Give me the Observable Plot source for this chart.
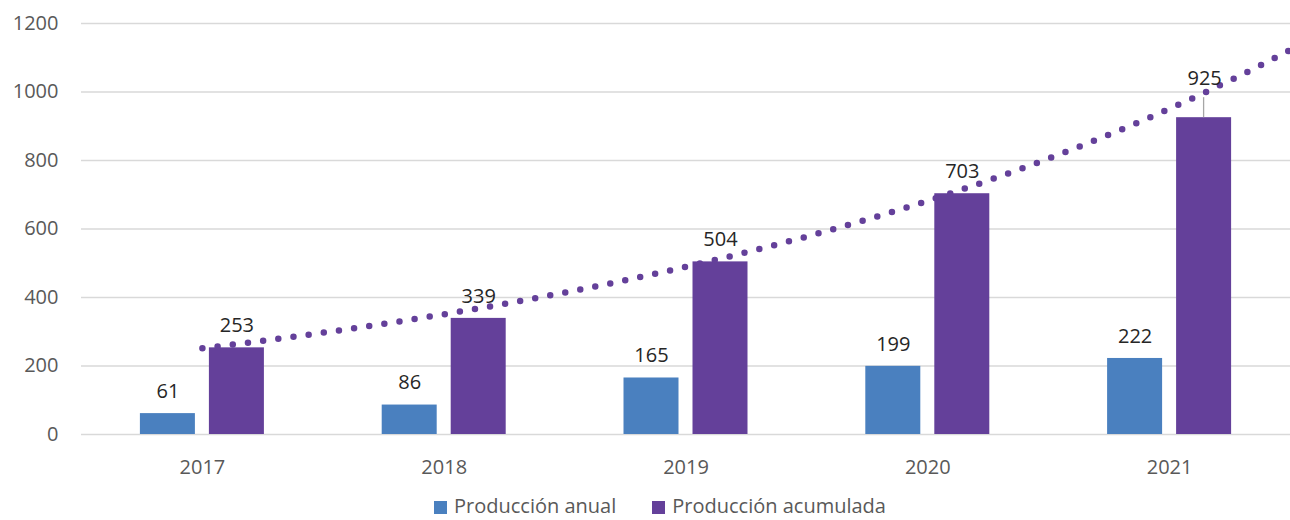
<!DOCTYPE html>
<html>
<head>
<meta charset="utf-8">
<script src="https://cdn.jsdelivr.net/npm/d3@7"></script>
<script src="https://cdn.jsdelivr.net/npm/@observablehq/plot@0.6"></script>
<style>
  body { margin: 0; background: #fff; font-family: "Open Sans", sans-serif; overflow: hidden; }
  #legend { display: flex; justify-content: center; gap: 36px; margin-top: 4px; padding-left: 30px;
            font-size: 20px; color: #595959; line-height: 24px; }
  #legend span.sw { display: inline-block; width: 13px; height: 13px; margin-right: 7px; vertical-align: -1px; }
</style>
</head>
<body>
<div id="chart"></div>
<div id="legend"></div>
<script>
const years = [2017, 2018, 2019, 2020, 2021];
const anual = [61, 86, 165, 199, 222];
const acumulada = [253, 339, 504, 703, 925];
const series = ["Producción anual", "Producción acumulada"];
const colors = ["#4a80bf", "#64409a"];
const yTicks = [0, 200, 400, 600, 800, 1000, 1200];

const dataAnual = years.map((y, i) => ({year: y, value: anual[i]}));
const dataAcum = years.map((y, i) => ({year: y, value: acumulada[i]}));

// Exponential trendline (least squares on ln y), as Excel draws it, forecast +0.5 period
const tx = years.map(y => y - years[0]);
const ly = acumulada.map(v => Math.log(v));
const mx = d3.mean(tx), my = d3.mean(ly);
const b = d3.sum(tx, (t, i) => (t - mx) * (ly[i] - my)) / d3.sum(tx, t => (t - mx) ** 2);
const a = my - b * mx;
const trend = d3.range(0, 4.5 + 1e-9, 0.05).map(t => ({year: years[0] + t, value: Math.exp(a + b * t)}));

const chart = Plot.plot({
  width: 1290,
  height: 490,
  marginLeft: 81,
  marginRight: 0,
  marginTop: 23,
  marginBottom: 56,
  style: {fontFamily: "Open Sans, sans-serif", fontSize: "20px", color: "#595959", background: "#fff"},
  x: {domain: [2016.5, 2021.5], ticks: years, tickFormat: d => String(d), tickSize: 0, tickPadding: 25, label: null},
  y: {domain: [0, 1200], ticks: yTicks, tickFormat: d => String(d), tickSize: 0, tickPadding: 23, label: null},
  marks: [
    Plot.ruleY(yTicks, {stroke: "#d9d9d9", strokeWidth: 1.4}),
    Plot.rect(dataAnual, {x1: "year", x2: "year", y1: d => 0, y2: "value", fill: colors[0],
      insetLeft: -27.5, insetRight: -27.5, dx: -34.5}),
    Plot.rect(dataAcum, {x1: "year", x2: "year", y1: d => 0, y2: "value", fill: colors[1],
      insetLeft: -27.5, insetRight: -27.5, dx: 34.5}),
    Plot.text(dataAnual, {x: "year", y: "value", text: d => String(d.value), dx: -34.5, dy: -22,
      fill: "#262626", fontSize: 20}),
    Plot.text(dataAcum.filter(d => d.year !== 2021), {x: "year", y: "value", text: d => String(d.value), dx: 34.5, dy: -22,
      fill: "#262626", fontSize: 20}),
    Plot.ruleX(dataAcum.filter(d => d.year === 2021), {x: "year", y1: "value", y2: "value", dx: 34,
      insetBottom: 20, stroke: "#a6a6a6", strokeWidth: 1.3}),
    Plot.line(trend, {x: "year", y: "value", stroke: colors[1], strokeWidth: 6.5,
      strokeDasharray: "0 15.3", strokeLinecap: "round", curve: "linear"}),
    Plot.text(dataAcum.filter(d => d.year === 2021), {x: "year", y: "value", text: d => String(d.value), dx: 35, dy: -39,
      fill: "#262626", fontSize: 20})
  ]
});
document.getElementById("chart").appendChild(chart);

const legend = document.getElementById("legend");
series.forEach((s, i) => {
  const item = document.createElement("div");
  item.innerHTML = `<span class="sw" style="background:${colors[i]}"></span>${s}`;
  legend.appendChild(item);
});
</script>
</body>
</html>
